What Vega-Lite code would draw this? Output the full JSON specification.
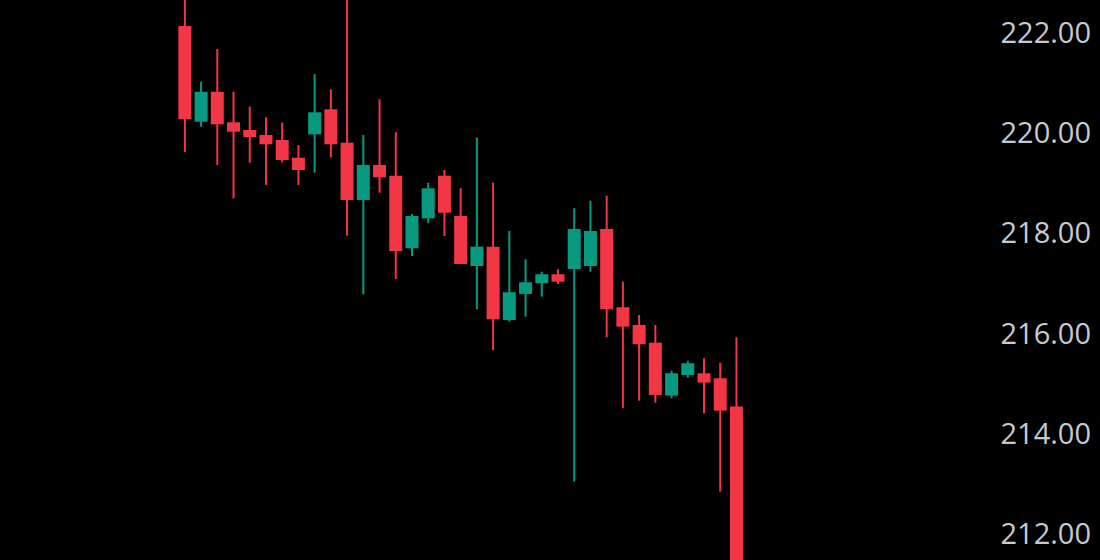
{
  "$schema": "https://vega.github.io/schema/vega-lite/v6.json",
  "width": 990,
  "height": 560,
  "padding": {"left": 0, "top": 0, "right": 110, "bottom": 0},
  "autosize": {"type": "none"},
  "background": "#000000",
  "config": {"view": {"stroke": null}},
  "data": {"values": [
    {"t":1,"open":222.146,"high":222.9,"low":219.634,"close":220.292},
    {"t":2,"open":220.238,"high":221.036,"low":220.139,"close":220.836},
    {"t":3,"open":220.836,"high":221.687,"low":219.375,"close":220.186},
    {"t":4,"open":220.226,"high":220.836,"low":218.711,"close":220.039},
    {"t":5,"open":220.073,"high":220.537,"low":219.421,"close":219.933},
    {"t":6,"open":219.973,"high":220.326,"low":218.977,"close":219.788},
    {"t":7,"open":219.874,"high":220.218,"low":219.429,"close":219.475},
    {"t":8,"open":219.521,"high":219.774,"low":218.977,"close":219.276},
    {"t":9,"open":219.987,"high":221.189,"low":219.222,"close":220.426},
    {"t":10,"open":220.485,"high":220.884,"low":219.529,"close":219.788},
    {"t":11,"open":219.820,"high":222.9,"low":217.966,"close":218.678},
    {"t":12,"open":218.678,"high":219.973,"low":216.798,"close":219.375},
    {"t":13,"open":219.375,"high":220.685,"low":218.823,"close":219.130},
    {"t":14,"open":219.162,"high":220.027,"low":217.103,"close":217.661},
    {"t":15,"open":217.715,"high":218.399,"low":217.561,"close":218.359},
    {"t":16,"open":218.313,"high":219.022,"low":218.213,"close":218.911},
    {"t":17,"open":219.162,"high":219.276,"low":217.960,"close":218.424},
    {"t":18,"open":218.359,"high":218.911,"low":217.402,"close":217.402},
    {"t":19,"open":217.362,"high":219.927,"low":216.499,"close":217.747},
    {"t":20,"open":217.747,"high":219.022,"low":215.688,"close":216.300},
    {"t":21,"open":216.286,"high":218.060,"low":216.252,"close":216.838},
    {"t":22,"open":216.804,"high":217.496,"low":216.351,"close":217.037},
    {"t":23,"open":217.017,"high":217.248,"low":216.750,"close":217.197},
    {"t":24,"open":217.197,"high":217.296,"low":217.003,"close":217.049},
    {"t":25,"open":217.302,"high":218.512,"low":213.063,"close":218.100},
    {"t":26,"open":217.362,"high":218.664,"low":217.248,"close":218.060},
    {"t":27,"open":218.100,"high":218.763,"low":215.941,"close":216.499},
    {"t":28,"open":216.539,"high":217.049,"low":214.526,"close":216.152},
    {"t":29,"open":216.186,"high":216.385,"low":214.677,"close":215.801},
    {"t":30,"open":215.833,"high":216.186,"low":214.637,"close":214.791},
    {"t":31,"open":214.777,"high":215.275,"low":214.725,"close":215.223},
    {"t":32,"open":215.189,"high":215.474,"low":215.136,"close":215.423},
    {"t":33,"open":215.223,"high":215.522,"low":214.426,"close":215.036},
    {"t":34,"open":215.124,"high":215.435,"low":212.863,"close":214.478},
    {"t":35,"open":214.562,"high":215.941,"low":211.2,"close":211.3}
  ]},
  "encoding": {
    "x": {"field": "t", "type": "quantitative", "scale": {"domain": [-10.086, 50.32], "nice": false, "zero": false}, "axis": null},
    "color": {
      "condition": {"test": "datum.close >= datum.open", "value": "#089981"},
      "value": "#f23645"
    }
  },
  "layer": [
    {
      "mark": {"type": "rule", "strokeWidth": 2, "clip": true},
      "encoding": {
        "y": {"field": "low", "type": "quantitative", "scale": {"domain": [211.5, 222.665], "nice": false, "zero": false},
          "axis": {"orient": "right", "values": [212, 214, 216, 218, 220, 222], "format": ".2f", "grid": false, "domain": false, "ticks": false, "labelPadding": 10, "labelFont": "Open Sans", "labelFontSize": 29, "labelColor": "#c7c9d0", "title": null}},
        "y2": {"field": "high"}
      }
    },
    {
      "mark": {"type": "bar", "size": 13, "clip": true},
      "encoding": {
        "y": {"field": "open", "type": "quantitative"},
        "y2": {"field": "close"}
      }
    }
  ]
}
